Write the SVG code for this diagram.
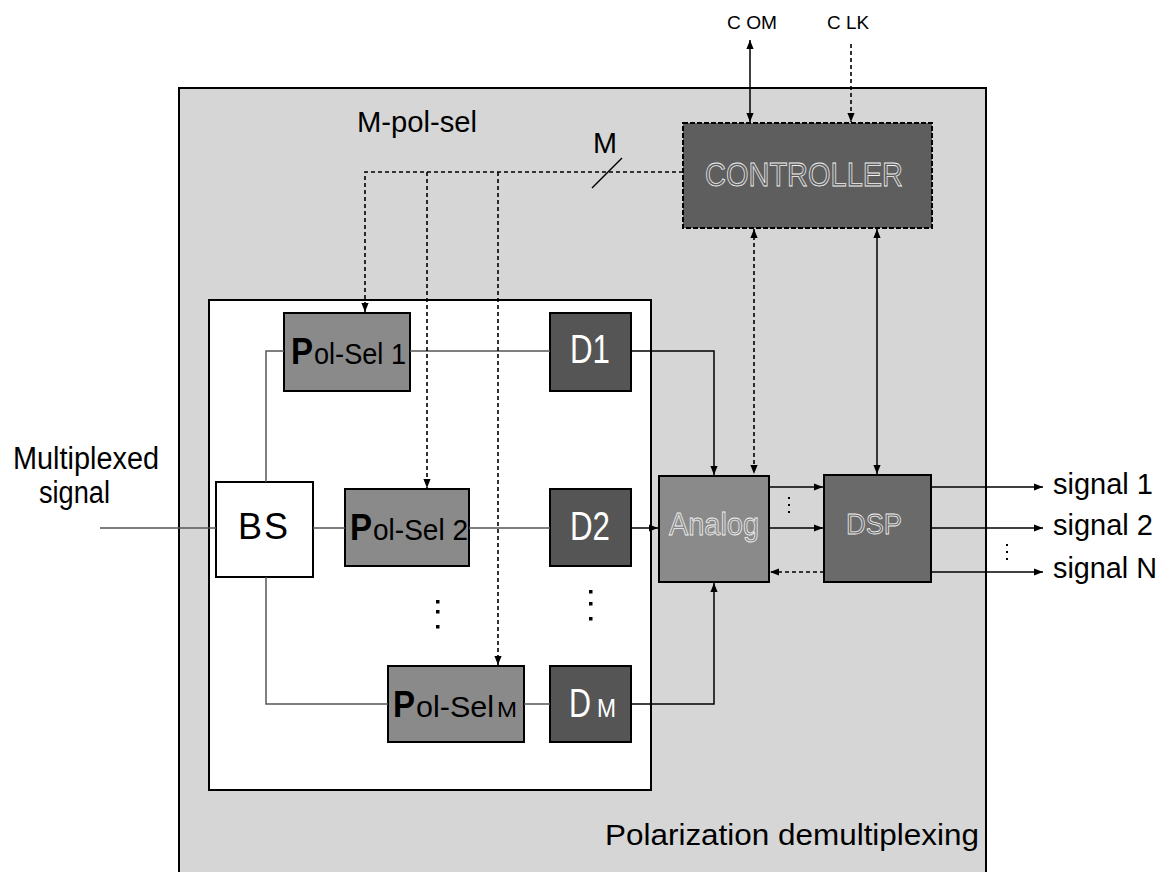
<svg xmlns="http://www.w3.org/2000/svg" width="1163" height="872" viewBox="0 0 1163 872">
<defs>
<marker id="ah" viewBox="0 0 10 10" refX="10" refY="5" markerWidth="9" markerHeight="9" orient="auto-start-reverse" markerUnits="userSpaceOnUse"><path d="M0,1 L10,5 L0,9 z" fill="#000"/></marker>
<style>
text{font-family:"Liberation Sans",Arial,sans-serif;}
.t{fill:#000;}
.hollow{fill:none;stroke:#f2f2f2;stroke-width:0.8;}
.w{fill:#fff;}
.wire{fill:none;stroke:#555;stroke-width:1.5;}
.sig{fill:none;stroke:#000;stroke-width:1.5;}
.dash{fill:none;stroke:#000;stroke-width:1.6;stroke-dasharray:4 3;}
.dot{fill:#000;}
</style>
</defs>
<rect x="0" y="0" width="1163" height="872" fill="#fff"/>
<g id="outer">
<rect x="179" y="88" width="807" height="800" fill="#d6d6d6" stroke="#000" stroke-width="2"/>
<text class="t" x="605" y="845" font-size="30" textLength="374" lengthAdjust="spacingAndGlyphs">Polarization demultiplexing</text>
</g>
<g id="mpolsel">
<rect x="209" y="300" width="442" height="490" fill="#fff" stroke="#000" stroke-width="2"/>
<text class="t" x="357" y="132" font-size="30" textLength="120" lengthAdjust="spacingAndGlyphs">M-pol-sel</text>
</g>
<g id="labels">
<text class="t" x="13" y="469" font-size="31" textLength="146" lengthAdjust="spacingAndGlyphs">Multiplexed</text>
<text class="t" x="39" y="503" font-size="31" textLength="71" lengthAdjust="spacingAndGlyphs">signal</text>
<text class="t" x="727" y="29" font-size="19" textLength="50" lengthAdjust="spacingAndGlyphs">C OM</text>
<text class="t" x="827" y="29" font-size="19" textLength="42" lengthAdjust="spacingAndGlyphs">C LK</text>
<text class="t" x="593" y="153" font-size="29" textLength="24" lengthAdjust="spacingAndGlyphs">M</text>
<text class="t" x="1053" y="494" font-size="29" textLength="100" lengthAdjust="spacingAndGlyphs">signal  1</text>
<text class="t" x="1053" y="535" font-size="29" textLength="100" lengthAdjust="spacingAndGlyphs">signal 2</text>
<text class="t" x="1053" y="578" font-size="29" textLength="104" lengthAdjust="spacingAndGlyphs">signal  N</text>
</g>
<g id="controller">
<rect x="683" y="123" width="249" height="105" fill="#5e5e5e" stroke="#000" stroke-width="2" stroke-dasharray="5 2"/>
<text class="hollow" x="705" y="186" font-size="33" textLength="198" lengthAdjust="spacingAndGlyphs">CONTROLLER</text>
</g>
<g id="bs">
<rect x="216" y="482" width="97" height="95" fill="#fff" stroke="#000" stroke-width="2"/>
<text class="t" x="238" y="539" font-size="36" textLength="50" lengthAdjust="spacing">BS</text>
</g>
<g id="polsel1">
<rect x="284" y="313" width="126" height="78" fill="#8a8a8a" stroke="#000" stroke-width="2"/>
<text class="t" x="291" y="364" font-size="37" font-weight="bold" textLength="22" lengthAdjust="spacingAndGlyphs">P</text>
<text class="t" x="314" y="364" font-size="30" textLength="92" lengthAdjust="spacingAndGlyphs">ol-Sel 1</text>
</g>
<g id="polsel2">
<rect x="345" y="489" width="124" height="77" fill="#8a8a8a" stroke="#000" stroke-width="2"/>
<text class="t" x="350" y="540" font-size="37" font-weight="bold" textLength="22" lengthAdjust="spacingAndGlyphs">P</text>
<text class="t" x="373" y="540" font-size="30" textLength="95" lengthAdjust="spacingAndGlyphs">ol-Sel 2</text>
</g>
<g id="polselM">
<rect x="388" y="666" width="136" height="76" fill="#8a8a8a" stroke="#000" stroke-width="2"/>
<text class="t" x="393" y="717" font-size="37" font-weight="bold" textLength="22" lengthAdjust="spacingAndGlyphs">P</text>
<text class="t" x="416" y="717" font-size="30" textLength="78" lengthAdjust="spacingAndGlyphs">ol-Sel</text>
<text class="t" x="497" y="717" font-size="22" textLength="20" lengthAdjust="spacingAndGlyphs">M</text>
</g>
<g id="d1">
<rect x="550" y="313" width="81" height="78" fill="#555" stroke="#000" stroke-width="2"/>
<text class="w" x="570" y="363" font-size="40" textLength="40" lengthAdjust="spacingAndGlyphs">D1</text>
</g>
<g id="d2">
<rect x="550" y="489" width="81" height="77" fill="#555" stroke="#000" stroke-width="2"/>
<text class="w" x="570" y="540" font-size="40" textLength="40" lengthAdjust="spacingAndGlyphs">D2</text>
</g>
<g id="dM">
<rect x="550" y="666" width="81" height="76" fill="#555" stroke="#000" stroke-width="2"/>
<text class="w" x="569" y="717" font-size="40" textLength="22" lengthAdjust="spacingAndGlyphs">D</text>
<text class="w" x="597" y="717" font-size="26" textLength="19" lengthAdjust="spacingAndGlyphs">M</text>
</g>
<g id="analog">
<rect x="659" y="476" width="110" height="106" fill="#8a8a8a" stroke="#000" stroke-width="2"/>
<text class="hollow" x="669" y="535" font-size="32" textLength="90" lengthAdjust="spacingAndGlyphs">Analog</text>
</g>
<g id="dsp">
<rect x="824" y="475" width="107" height="107" fill="#6a6a6a" stroke="#000" stroke-width="2"/>
<text class="hollow" x="846" y="534" font-size="30" textLength="56" lengthAdjust="spacingAndGlyphs">DSP</text>
</g>
<g id="connectors">
<path class="wire" d="M100,528 H216"/>
<path class="wire" d="M266,482 V351 H284"/>
<path class="wire" d="M410,351 H550"/>
<path class="wire" d="M313,528 H345"/>
<path class="wire" d="M469,528 H550"/>
<path class="wire" d="M266,577 V704 H388"/>
<path class="wire" d="M524,704 H550"/>
<path class="sig" d="M631,351 H714 V475" marker-end="url(#ah)"/>
<path class="sig" d="M631,528 H658" marker-end="url(#ah)"/>
<path class="sig" d="M631,704 H714 V583" marker-end="url(#ah)"/>
<path class="sig" d="M769,487 H823" marker-end="url(#ah)"/>
<path class="sig" d="M769,528 H823" marker-end="url(#ah)"/>
<path class="dash" d="M824,572 H770" marker-end="url(#ah)"/>
<path class="sig" d="M931,487 H1043" marker-end="url(#ah)"/>
<path class="sig" d="M931,528 H1043" marker-end="url(#ah)"/>
<path class="sig" d="M931,572 H1043" marker-end="url(#ah)"/>
<path class="dash" d="M754,229 V474" marker-start="url(#ah)" marker-end="url(#ah)"/>
<path class="sig" d="M877,229 V474" marker-start="url(#ah)" marker-end="url(#ah)"/>
<path class="sig" d="M750,40 V122" marker-start="url(#ah)" marker-end="url(#ah)"/>
<path class="dash" d="M851,44 V122" marker-end="url(#ah)"/>
<path class="dash" d="M683,172 H365 V312" marker-end="url(#ah)"/>
<path class="dash" d="M427,172 V488" marker-end="url(#ah)"/>
<path class="dash" d="M498,172 V665" marker-end="url(#ah)"/>
<path class="sig" d="M592,188 L622,158"/>
</g>
<g id="ellipses">
<rect class="dot" x="436" y="600" width="3.5" height="3.5"/>
<rect class="dot" x="436" y="610" width="3.5" height="3.5"/>
<rect class="dot" x="436" y="625" width="3.5" height="3.5"/>
<rect class="dot" x="589" y="590" width="3.5" height="3.5"/>
<rect class="dot" x="589" y="602" width="3.5" height="3.5"/>
<rect class="dot" x="589" y="617" width="3.5" height="3.5"/>
<rect class="dot" x="788" y="497" width="2" height="2"/>
<rect class="dot" x="788" y="504" width="2" height="2"/>
<rect class="dot" x="788" y="511" width="2" height="2"/>
<rect class="dot" x="1006" y="544" width="2" height="2"/>
<rect class="dot" x="1006" y="551" width="2" height="2"/>
<rect class="dot" x="1006" y="558" width="2" height="2"/>
</g>
</svg>
